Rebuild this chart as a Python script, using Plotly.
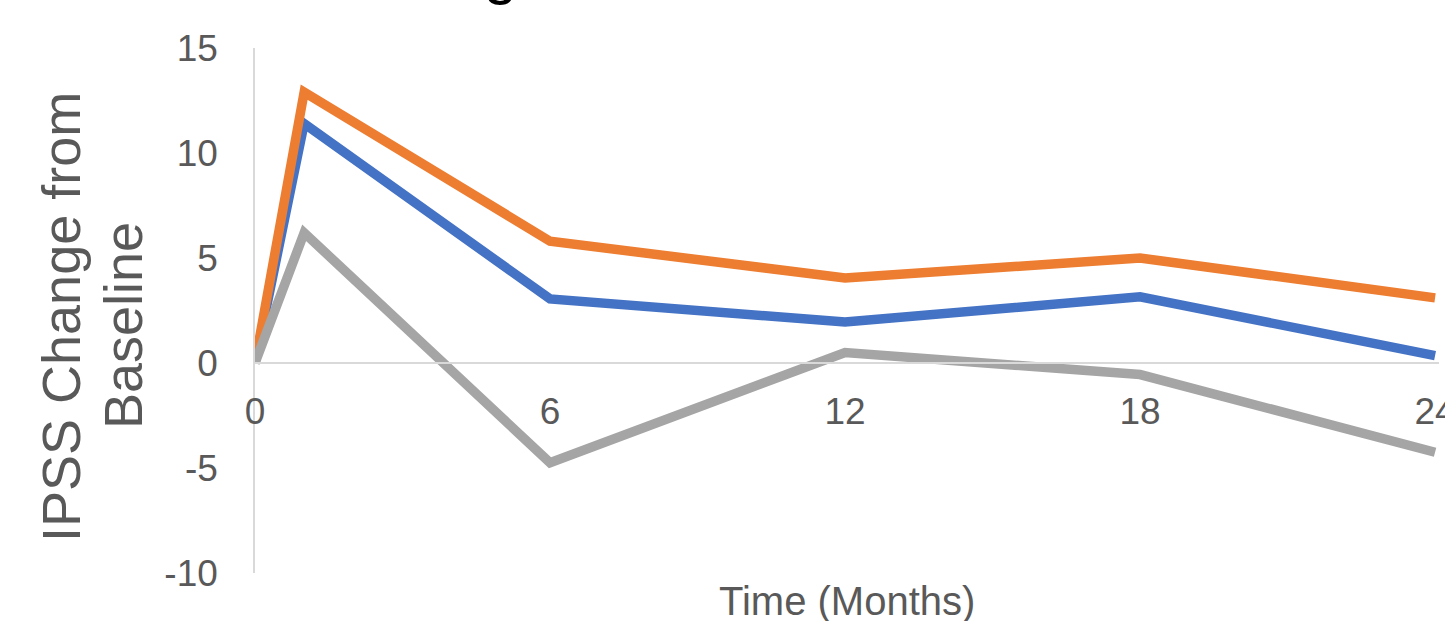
import plotly.graph_objects as go

months = [0, 1, 6, 12, 18, 24]
series_blue = [0.0, 11.4, 3.05, 1.95, 3.15, 0.35]
series_orange = [0.0, 12.9, 5.8, 4.05, 5.0, 3.1]
series_gray = [0.0, 6.2, -4.75, 0.5, -0.55, -4.25]
x_ticks = [0, 6, 12, 18, 24]
y_ticks = [-10, -5, 0, 5, 10, 15]
y_tick_text = ["-10", "-5", "0", "5", "10", "15"]

FONT = "Liberation Sans, Arial, sans-serif"
TXT = "#595959"

L, R, T, B = 255, 6, 48, 48
W, H = 1445, 621
PW = W - L - R
PH = H - T - B


def px_x(p):
    return (p - L) / PW


def px_y(p):
    return (H - B - p) / PH


fig = go.Figure()
for vals, col in [(series_blue, "#4472C4"), (series_orange, "#ED7D31"), (series_gray, "#A5A5A5")]:
    fig.add_trace(go.Scatter(x=months, y=vals, mode="lines",
                             line=dict(color=col, width=9.5), showlegend=False))

fig.update_layout(
    width=W, height=H,
    margin=dict(l=L, r=R, t=T, b=B, autoexpand=False),
    paper_bgcolor="white", plot_bgcolor="white",
    font=dict(family=FONT, color=TXT, size=37),
    xaxis=dict(range=[0, 24.08], tickvals=x_ticks, ticktext=[str(v) for v in x_ticks],
               showgrid=False, zeroline=False, showline=True, linecolor="#D9D9D9", linewidth=1.5,
               anchor="free", position=0.4, ticks="", ticklabelstandoff=16, automargin=False,
               ticklabeloverflow="allow", tickfont=dict(size=37, color=TXT)),
    yaxis=dict(range=[-10, 15], tickvals=y_ticks, ticktext=y_tick_text, showgrid=False,
               zeroline=False, showline=True, linecolor="#D9D9D9", linewidth=1.5, ticks="",
               automargin=False, ticklabelstandoff=28, tickfont=dict(size=37, color=TXT)),
    annotations=[
        dict(text="Time (Months)", x=0.5, y=px_y(601), xref="paper", yref="paper",
             xanchor="center", yanchor="middle", showarrow=False,
             font=dict(size=40, color=TXT)),
        dict(text="IPSS Change from", x=px_x(61), y=px_y(317), xref="paper", yref="paper",
             textangle=-90, xanchor="center", yanchor="middle", showarrow=False,
             font=dict(size=54, color=TXT)),
        dict(text="Baseline", x=px_x(123), y=px_y(326), xref="paper", yref="paper",
             textangle=-90, xanchor="center", yanchor="middle", showarrow=False,
             font=dict(size=54, color=TXT)),
        dict(text="IPSS Change", x=px_x(553), y=px_y(8), xref="paper", yref="paper",
             xanchor="right", yanchor="bottom", showarrow=False,
             font=dict(size=60, color="black")),
    ],
)
fig.write_html("out.html")
